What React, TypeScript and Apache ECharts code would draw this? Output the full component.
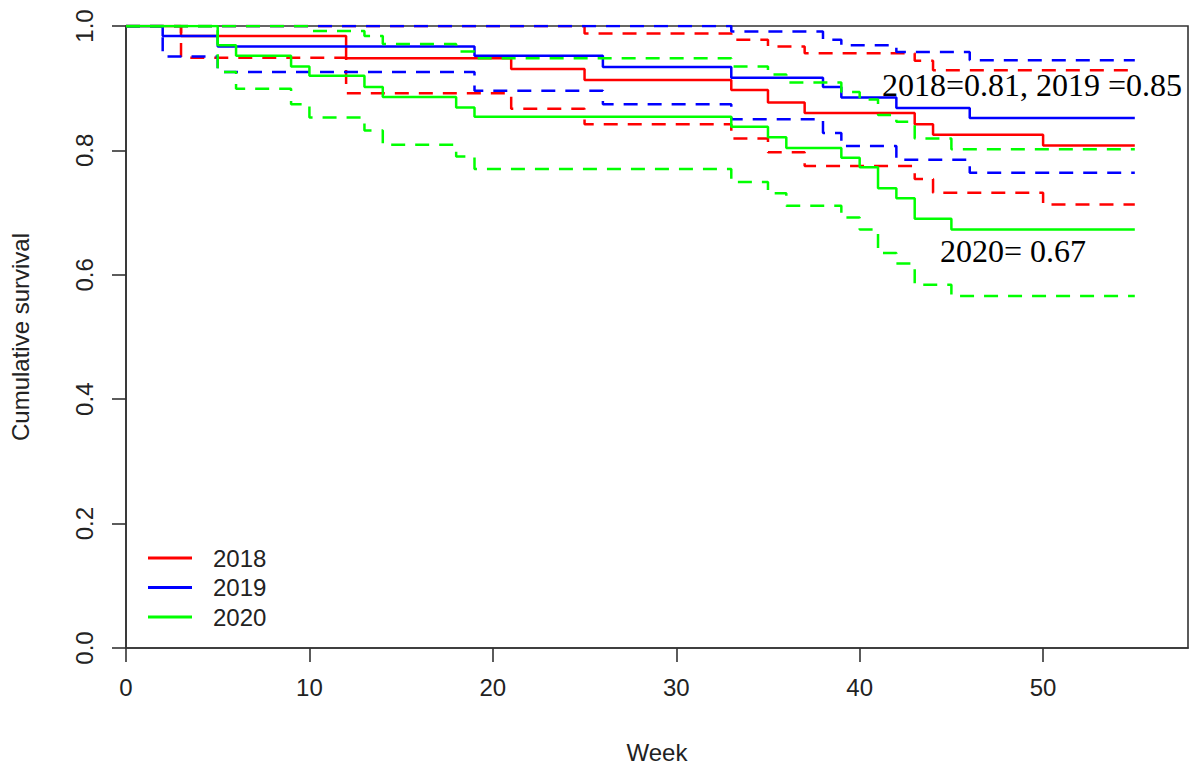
import React, { useEffect, useRef } from "react";
import * as echarts from "echarts";

// Kaplan–Meier survival by cohort year: estimate with lower/upper 95% confidence limits.
const years = ["2018", "2019", "2020"];
const colors = ["#ff0000", "#0000ff", "#00ff00"];

const weeks2018 = [0, 3, 12, 21, 25, 33, 35, 37, 43, 44, 50, 55];
const surv2018 = [1, 0.984, 0.948, 0.931, 0.913, 0.897, 0.877, 0.86, 0.842, 0.825, 0.808, 0.808];
const lower2018 = [1, 0.949, 0.892, 0.867, 0.842, 0.819, 0.797, 0.775, 0.754, 0.732, 0.713, 0.713];
const upper2018 = [1, 1, 1, 1, 0.988, 0.978, 0.967, 0.956, 0.944, 0.929, 0.929, 0.929];

const weeks2019 = [0, 2, 5, 19, 26, 33, 38, 39, 42, 46, 55];
const surv2019 = [1, 0.984, 0.967, 0.952, 0.934, 0.917, 0.902, 0.885, 0.868, 0.852, 0.852];
const lower2019 = [1, 0.951, 0.926, 0.896, 0.874, 0.85, 0.828, 0.807, 0.785, 0.764, 0.764];
const upper2019 = [1, 1, 1, 1, 1, 0.991, 0.978, 0.969, 0.958, 0.945, 0.945];

const weeks2020 = [0, 5, 6, 9, 10, 13, 14, 18, 19, 33, 35, 36, 39, 40, 41, 42, 43, 45, 55];
const surv2020 = [1, 0.969, 0.952, 0.935, 0.92, 0.902, 0.886, 0.869, 0.854, 0.838, 0.821, 0.804, 0.788, 0.773, 0.739, 0.723, 0.69, 0.673, 0.673];
const lower2020 = [1, 0.926, 0.899, 0.874, 0.853, 0.832, 0.809, 0.79, 0.77, 0.749, 0.731, 0.711, 0.692, 0.673, 0.635, 0.618, 0.584, 0.566, 0.566];
const upper2020 = [1, 1, 1, 1, 0.992, 0.984, 0.971, 0.959, 0.948, 0.935, 0.922, 0.909, 0.894, 0.882, 0.857, 0.846, 0.819, 0.802, 0.802];

const annotationTop = "2018=0.81, 2019 =0.85";
const annotationBottom = "2020= 0.67";

const cohorts = [
  { weeks: weeks2018, surv: surv2018, lower: lower2018, upper: upper2018 },
  { weeks: weeks2019, surv: surv2019, lower: lower2019, upper: upper2019 },
  { weeks: weeks2020, surv: surv2020, lower: lower2020, upper: upper2020 },
];

const SANS = "'Liberation Sans', Arial, sans-serif";
const SERIF = "'Liberation Serif', 'Times New Roman', serif";
const INK = "#222";
const AXIS = "#333";

function pairs(xs: number[], ys: number[]) {
  return xs.map((x, i) => [x, ys[i]]);
}

function stepSeries(name: string, data: number[][], color: string, dashed: boolean) {
  return {
    type: "line",
    name,
    step: "end",
    data,
    symbol: "none",
    showSymbol: false,
    silent: true,
    emphasis: { disabled: true },
    lineStyle: {
      color,
      width: 2.5,
      type: dashed ? [14, 10] : "solid",
      cap: "butt",
    },
    itemStyle: { color },
  };
}

export default function App() {
  const ref = useRef<HTMLDivElement>(null);

  useEffect(() => {
    document.body.style.margin = "0";
    if (!ref.current) return;
    const chart = echarts.init(ref.current, undefined, { renderer: "svg" });

    const series: any[] = [];
    cohorts.forEach((c, i) => {
      series.push(stepSeries(years[i], pairs(c.weeks, c.surv), colors[i], false));
      series.push(stepSeries(years[i] + " upper", pairs(c.weeks, c.upper), colors[i], true));
      series.push(stepSeries(years[i] + " lower", pairs(c.weeks, c.lower), colors[i], true));
    });

    const axisLineStyle = { color: AXIS, width: 1.6 };

    chart.setOption({
      animation: false,
      grid: {
        left: 125,
        top: 26,
        width: 1063,
        height: 622,
        show: true,
        borderColor: AXIS,
        borderWidth: 1.6,
        backgroundColor: "transparent",
      },
      xAxis: {
        type: "value",
        min: 0,
        max: 57.9,
        interval: 10,
        name: "Week",
        nameLocation: "middle",
        nameGap: 92,
        nameTextStyle: { fontFamily: SANS, fontSize: 24, color: INK },
        axisLine: { show: true, onZero: false, lineStyle: axisLineStyle },
        axisTick: { show: true, length: 14, lineStyle: axisLineStyle },
        axisLabel: {
          fontFamily: SANS,
          fontSize: 24,
          color: INK,
          margin: 27,
          showMaxLabel: false,
        },
        splitLine: { show: false },
      },
      yAxis: {
        type: "value",
        min: 0,
        max: 1,
        interval: 0.2,
        name: "Cumulative survival",
        nameLocation: "middle",
        nameGap: 94,
        nameRotate: 90,
        nameTextStyle: { fontFamily: SANS, fontSize: 24, color: INK },
        axisLine: { show: true, onZero: false, lineStyle: axisLineStyle },
        axisTick: { show: true, length: 14, lineStyle: axisLineStyle },
        axisLabel: {
          fontFamily: SANS,
          fontSize: 24,
          color: INK,
          rotate: 90,
          margin: 30,
          formatter: (v: number) => v.toFixed(1),
        },
        splitLine: { show: false },
      },
      legend: {
        show: true,
        data: years,
        orient: "vertical",
        left: 148,
        top: 546,
        padding: 0,
        icon: "rect",
        itemWidth: 44,
        itemHeight: 3,
        itemGap: 5.5,
        selectedMode: false,
        textStyle: {
          fontFamily: SANS,
          fontSize: 24,
          lineHeight: 24,
          color: INK,
          padding: [0, 0, 0, 16],
        },
      },
      graphic: [
        {
          type: "text",
          x: 1032,
          y: 85,
          silent: true,
          style: {
            text: annotationTop,
            fontFamily: SERIF,
            fontSize: 32,
            fill: "#000",
            align: "center",
            verticalAlign: "middle",
          },
        },
        {
          type: "text",
          x: 1013,
          y: 251,
          silent: true,
          style: {
            text: annotationBottom,
            fontFamily: SERIF,
            fontSize: 32,
            fill: "#000",
            align: "center",
            verticalAlign: "middle",
          },
        },
      ],
      series,
    });

    return () => chart.dispose();
  }, []);

  return <div ref={ref} style={{ width: 1191, height: 770 }} />;
}
